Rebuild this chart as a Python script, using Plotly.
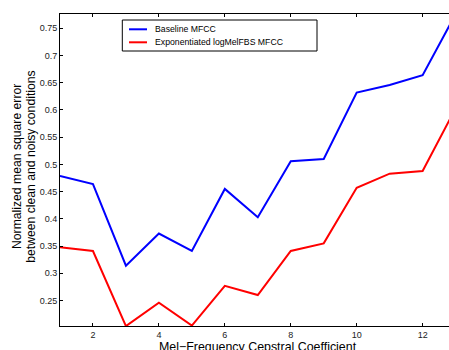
import plotly.graph_objects as go

# Mel-frequency cepstral coefficient index
coefficients = [1, 2, 3, 4, 5, 6, 7, 8, 9, 10, 11, 12, 13]

# Normalized MSE between clean and noisy conditions
baseline_mfcc = [0.479, 0.464, 0.314, 0.373, 0.341, 0.455, 0.403,
                 0.506, 0.510, 0.632, 0.646, 0.664, 0.776]
exp_logmelfbs_mfcc = [0.348, 0.341, 0.203, 0.246, 0.204, 0.277, 0.260,
                      0.341, 0.355, 0.457, 0.483, 0.488, 0.603]

series_names = ["Baseline MFCC", "Exponentiated logMelFBS MFCC"]
series_colors = ["#0000ff", "#ff0000"]

x_tickvals = [2, 4, 6, 8, 10, 12]
x_ticktext = ["2", "4", "6", "8", "10", "12"]
y_tickvals = [0.25, 0.3, 0.35, 0.4, 0.45, 0.5, 0.55, 0.6, 0.65, 0.7, 0.75]
y_ticktext = ["0.25", "0.3", "0.35", "0.4", "0.45", "0.5", "0.55",
              "0.6", "0.65", "0.7", "0.75"]

x_title = "Mel\u2212Frequency Cepstral Coefficient"
y_title_lines = ["Normalized mean square error",
                 "between clean and noisy conditions"]

FONT = "Liberation Sans, Arial, Helvetica, sans-serif"
W, H = 449, 350
L, R, T, B = 60, 0, 14, 24
PW, PH = W - L - R, H - T - B


def px_x(px):
    return (px - L) / PW


def px_y(py):
    return (H - B - py) / PH


fig = go.Figure()
for name, vals, col in zip(series_names, [baseline_mfcc, exp_logmelfbs_mfcc], series_colors):
    fig.add_trace(go.Scatter(
        x=coefficients, y=vals, mode="lines", name=name,
        line=dict(color=col, width=2), showlegend=False,
    ))

axis_common = dict(
    showline=True, linecolor="black", linewidth=1,
    ticks="inside", ticklen=3, tickcolor="black", tickwidth=1,
    showgrid=False, zeroline=False,
    tickfont=dict(family=FONT, size=9, color="#222222"),
)

fig.update_xaxes(range=[1, 12.80], tickmode="array", tickvals=x_tickvals,
                 ticktext=x_ticktext, mirror="ticks", **axis_common)
fig.update_yaxes(range=[0.2032, 0.7763], tickmode="array", tickvals=y_tickvals,
                 ticktext=y_ticktext, mirror=False, **axis_common)

shapes = []
annotations = []

# legend box with line samples
shapes.append(dict(type="rect", xref="paper", yref="paper",
                   x0=px_x(122.3), x1=px_x(317), y0=px_y(51), y1=px_y(20),
                   line=dict(color="black", width=1), fillcolor="white", layer="above"))
for i, (name, col) in enumerate(zip(series_names, series_colors)):
    ry = 29.3 + 13 * i
    shapes.append(dict(type="line", xref="paper", yref="paper",
                       x0=px_x(129), x1=px_x(147), y0=px_y(ry), y1=px_y(ry),
                       line=dict(color=col, width=2), layer="above"))
    annotations.append(dict(text=name, xref="paper", yref="paper",
                            x=px_x(153), y=px_y(ry), xanchor="left", yanchor="middle",
                            showarrow=False, font=dict(family=FONT, size=8.7, color="black")))

# axis titles
annotations.append(dict(text=x_title, xref="paper", yref="paper",
                        x=px_x(258), y=px_y(347), xanchor="center", yanchor="middle",
                        showarrow=False, font=dict(family=FONT, size=12.4, color="black")))
for i, line in enumerate(y_title_lines):
    annotations.append(dict(text=line, xref="paper", yref="paper",
                            x=px_x(17 + 13.8 * i), y=px_y(167), xanchor="center",
                            yanchor="middle", textangle=-90, showarrow=False,
                            font=dict(family=FONT, size=12.2, color="black")))

fig.update_layout(
    width=W, height=H,
    margin=dict(l=L, r=R, t=T, b=B),
    paper_bgcolor="white", plot_bgcolor="white",
    shapes=shapes, annotations=annotations,
    showlegend=False,
)

fig.write_html("out.html")
